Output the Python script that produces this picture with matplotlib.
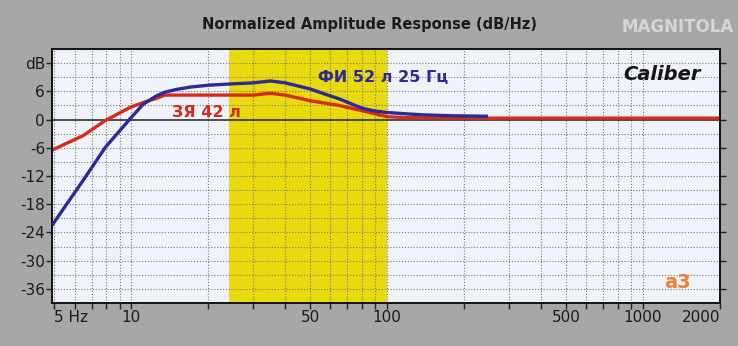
import matplotlib
matplotlib.use("Agg")
import matplotlib.pyplot as plt
from matplotlib.ticker import FixedLocator, NullFormatter

# ---- data ----
blue_freq = [4.9, 6.49, 7.92, 9.91, 11.1, 12.5, 13.5, 15, 17, 20, 25, 30, 35, 40, 50, 58, 65, 75, 81, 90, 100, 120, 138, 180, 248]
blue_db = [-22.5, -12.9, -5.9, 0.2, 3.2, 5.0, 5.8, 6.4, 6.9, 7.3, 7.6, 7.8, 8.2, 7.8, 6.5, 5.3, 4.4, 3.0, 2.3, 1.8, 1.5, 1.2, 1.0, 0.8, 0.7]
red_freq = [4.9, 6.49, 7.92, 9.91, 11.5, 12.4, 13.5, 15, 20, 25, 30, 35, 40, 50, 65, 81, 100, 120, 200, 500, 2000]
red_db = [-6.5, -3.4, -0.2, 2.6, 3.9, 4.4, 5.2, 5.2, 5.2, 5.2, 5.2, 5.6, 5.2, 4.0, 3.0, 1.8, 0.6, 0.4, 0.3, 0.3, 0.3]
band = (24, 100)

x_ticks = [5, 10, 50, 100, 500, 1000, 2000]
x_labels = ["5 Hz", "10", "50", "100", "500", "1000", "2000"]
y_ticks = [12, 6, 0, -6, -12, -18, -24, -30, -36]
y_labels = ["dB", "6", "0", "-6", "-12", "-18", "-24", "-30", "-36"]

title = "Normalized Amplitude Response (dB/Hz)"
blue_label = "ФИ 52 л 25 Гц"
red_label = "ЗЯ 42 л"

# ---- figure ----
fig = plt.figure(figsize=(7.38, 3.46), dpi=100, facecolor="#a7a7a7")
ax = fig.add_axes([52/738, 1-303/346, (720-52)/738, (303-49)/346])
ax.set_facecolor("#eff2f8")
ax.set_xscale("log")
ax.set_xlim(4.9, 2000)
ax.set_ylim(-39, 15)

ax.axvspan(band[0], band[1], color="#e8da0c", zorder=0.2, lw=0)

minor = []
for dec in [1, 10, 100, 1000]:
    for m in range(1, 10):
        v = m * dec
        if 4.9 < v < 2000:
            minor.append(v)
for v in minor:
    ax.axvline(v, color="#7a7a7a", lw=0.8, ls=(0, (1, 1.6)), zorder=0.5)
for yv in range(-39, 16, 3):
    if yv != 0:
        ax.axhline(yv, color="#7a7a7a", lw=0.8, ls=(0, (1, 1.6)), zorder=0.5)
ax.axhline(0, color="#202020", lw=1.1, zorder=0.6)

ax.plot(blue_freq, blue_db, color="#2b2a96", lw=2.4, zorder=3, solid_capstyle="butt")
ax.plot(red_freq, red_db, color="#d42b1c", lw=2.4, zorder=2.5, solid_capstyle="butt")

ax.xaxis.set_major_locator(FixedLocator(x_ticks))
ax.xaxis.set_minor_locator(FixedLocator([v for v in minor if v not in x_ticks]))
ax.xaxis.set_minor_formatter(NullFormatter())
ax.set_xticklabels(x_labels)
ax.set_yticks(y_ticks)
ax.set_yticklabels(y_labels)
ax.tick_params(axis="both", which="both", direction="out", length=4, width=1, color="#222222",
               labelsize=11, labelcolor="#1a1a1a", pad=1)
ax.tick_params(axis="y", right=True)
for lbl in ax.get_xticklabels():
    if lbl.get_text() == "5 Hz":
        lbl.set_horizontalalignment("left")
        lbl.set_x(4.9)
    if lbl.get_text() == "2000":
        lbl.set_horizontalalignment("right")

for s in ax.spines.values():
    s.set_color("#111111")
    s.set_linewidth(1.4)

fig.text(369/738, 1-25/346, title, ha="center", va="center", fontsize=10.5, fontweight="bold",
         color="#1a1a1a", family=["Liberation Sans Narrow", "DejaVu Sans"])
fig.text(678/738, 1-27/346, "MAGNITOLA", ha="center", va="center", fontsize=12, fontweight="bold",
         color="#d6d6d6", family=["Liberation Sans Narrow", "DejaVu Sans"])

fig.text(383/738, 1-77/346, blue_label, ha="center", va="center", fontsize=11.5, fontweight="bold",
         color="#2b2a96")
fig.text(206/738, 1-112/346, red_label, ha="center", va="center", fontsize=11.5, fontweight="bold",
         color="#d42b1c")
fig.text(662/738, 1-74/346, "Caliber", ha="center", va="center", fontsize=14, fontweight="bold",
         style="italic", color="#151515")
fig.text(677/738, 1-283/346, "a3", ha="center", va="center", fontsize=14, fontweight="bold",
         color="#e8823a")

fig.savefig("out.png", dpi=100, facecolor=fig.get_facecolor())
